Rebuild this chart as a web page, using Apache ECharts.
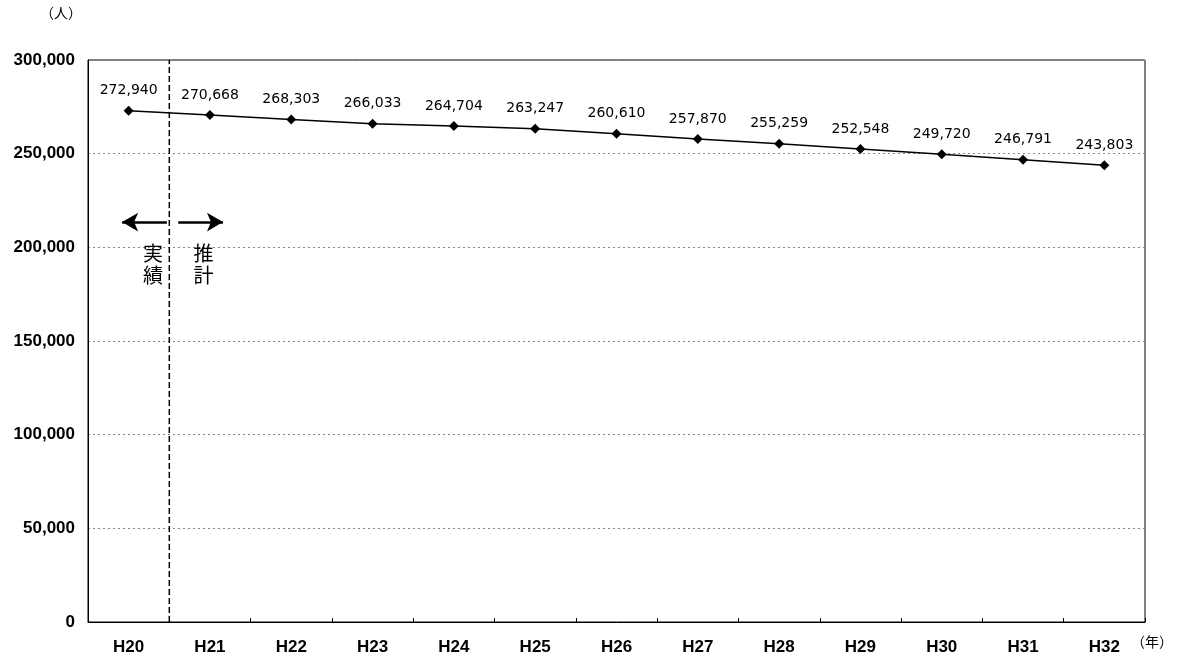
<!DOCTYPE html>
<html><head><meta charset="utf-8">
<script src="https://cdn.jsdelivr.net/npm/echarts@6/dist/echarts.min.js"></script>
<style>html,body{margin:0;padding:0;background:#fff}#c{width:1178px;height:659px}</style>
</head><body><div id="c"></div>
<script>
const categories = ['H20','H21','H22','H23','H24','H25','H26','H27','H28','H29','H30','H31','H32'];
const population = [272940,270668,268303,266033,264704,263247,260610,257870,255259,252548,249720,246791,243803];
const yTicks = [0,50000,100000,150000,200000,250000,300000];
const dividerPos = 0.5;        // boundary between actual (H20) and estimate (H21+)
const arrowLevel = 213500;
const textLevel = 191000;

const font = 'Liberation Sans, Arial, sans-serif';
const chart = echarts.init(document.getElementById('c'));
chart.setOption({
  animation: false,
  grid: {left: 88, right: 33, top: 60, bottom: 37, show: true, borderColor: '#000', borderWidth: 1},
  xAxis: [{
    type: 'category', data: categories, boundaryGap: true,
    axisLine: {lineStyle: {color: '#000', width: 1}},
    axisTick: {show: true, inside: true, length: 4, lineStyle: {color: '#000'}},
    axisLabel: {color: '#000', fontFamily: font, fontSize: 17, fontWeight: 'bold', margin: 17}
  }, {
    type: 'value', min: -0.5, max: categories.length - 0.5, show: false
  }],
  yAxis: {
    type: 'value', min: yTicks[0], max: yTicks[yTicks.length-1], interval: 50000,
    axisLine: {show: true, onZero: false, lineStyle: {color: '#000'}},
    axisTick: {show: false},
    axisLabel: {color: '#000', fontFamily: font, fontSize: 17, fontWeight: 'bold', margin: 13,
      formatter: v => v.toLocaleString('en-US')},
    splitLine: {show: true, lineStyle: {color: '#888', type: [2, 3], width: 1}}
  },
  graphic: [{
    type: 'text', left: 40, top: 6,
    style: {text: '（人）', font: '14px "Noto Sans CJK JP"', fill: '#000'}
  }, {
    type: 'text', left: 1131, top: 635,
    style: {text: '（年）', font: '14px "Noto Sans CJK JP"', fill: '#000'}
  }],
  series: [{
    type: 'line', data: population, xAxisIndex: 0,
    symbol: 'diamond', symbolSize: 10,
    itemStyle: {color: '#000'},
    lineStyle: {color: '#000', width: 1.5},
    label: {show: true, position: 'top', distance: 8, color: '#000', fontFamily: 'DejaVu Sans', fontSize: 14,
      formatter: p => p.value.toLocaleString('en-US')}
  }, {
    type: 'line', xAxisIndex: 1,
    data: [[dividerPos, yTicks[0]], [dividerPos, yTicks[yTicks.length-1]]],
    symbol: 'none', silent: true,
    lineStyle: {color: '#000', width: 1.5, type: [6, 3]},
    markLine: {
      silent: true, symbol: ['none', 'arrow'], symbolSize: [14, 16],
      lineStyle: {color: '#000', width: 2.5, type: 'solid'},
      label: {show: false},
      data: [
        [{coord: [0.47, arrowLevel]}, {coord: [-0.08, arrowLevel]}],
        [{coord: [0.61, arrowLevel]}, {coord: [1.16, arrowLevel]}]
      ]
    },
    markPoint: {
      silent: true, symbol: 'circle', symbolSize: 0,
      label: {show: true, color: '#000', fontFamily: 'Noto Sans CJK JP', fontSize: 20, lineHeight: 22,
        formatter: p => p.name},
      data: [
        {name: '実\n績', coord: [0.30, textLevel]},
        {name: '推\n計', coord: [0.92, textLevel]}
      ]
    }
  }]
});
</script></body></html>
